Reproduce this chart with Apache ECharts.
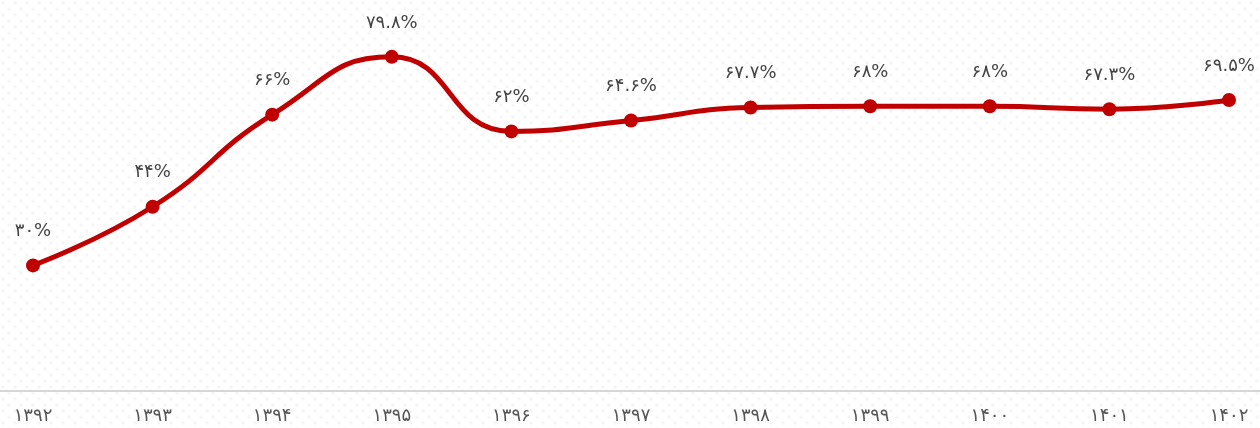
<!DOCTYPE html>
<html>
<head>
<meta charset="utf-8">
<script src="https://cdn.jsdelivr.net/npm/echarts@6/dist/echarts.min.js"></script>
<style>
  html, body {margin: 0; padding: 0; background: #fff;}
  #chart {width: 1260px; height: 428px;}
</style>
</head>
<body>
<div id="chart"></div>
<script>
const years = ['۱۳۹۲', '۱۳۹۳', '۱۳۹۴', '۱۳۹۵', '۱۳۹۶', '۱۳۹۷', '۱۳۹۸', '۱۳۹۹', '۱۴۰۰', '۱۴۰۱', '۱۴۰۲'];
const values = [30, 44, 66, 79.8, 62, 64.6, 67.7, 68, 68, 67.3, 69.5];

const faDigits = '۰۱۲۳۴۵۶۷۸۹';
const toFa = (n) => String(n).replace(/\d/g, d => faDigits[d]);

// faint dotted paper background
const tile = document.createElement('canvas');
tile.width = 12;
tile.height = 12;
const ctx = tile.getContext('2d');
ctx.fillStyle = '#ffffff';
ctx.fillRect(0, 0, 12, 12);
ctx.fillStyle = '#f5f5f5';
[[3, 3], [9, 9]].forEach(([x, y]) => {
  ctx.beginPath();
  ctx.arc(x, y, 1.8, 0, Math.PI * 2);
  ctx.fill();
});

const myChart = echarts.init(document.getElementById('chart'));
myChart.setOption({
  backgroundColor: {image: tile, repeat: 'repeat'},
  animation: false,
  grid: {left: 33, right: 31, top: 56, bottom: 37},
  xAxis: {
    type: 'category',
    data: years,
    boundaryGap: false,
    axisTick: {show: false},
    axisLine: {show: false},
    axisLabel: {
      color: '#555',
      fontSize: 18,
      fontFamily: 'DejaVu Sans',
      margin: 16,
      interval: 0
    }
  },
  yAxis: {
    type: 'value',
    min: 0,
    max: 80,
    show: false,
    splitLine: {show: false}
  },
  series: [{
    type: 'line',
    data: values,
    smooth: 0.5,
    symbol: 'circle',
    symbolSize: 14,
    z: 3,
    itemStyle: {color: '#c00000'},
    lineStyle: {color: '#c00000', width: 5},
    label: {
      show: true,
      position: 'top',
      distance: 18,
      color: '#444',
      fontSize: 18,
      fontFamily: 'DejaVu Sans',
      formatter: (p) => toFa(p.value) + '%'
    }
  }]
});

// baseline runs across the full width of the picture
const baseY = Math.round(myChart.convertToPixel({yAxisIndex: 0}, 0));
myChart.setOption({
  graphic: [{
    type: 'line',
    shape: {x1: 0, y1: baseY, x2: myChart.getWidth(), y2: baseY},
    style: {stroke: '#d6d6d6', lineWidth: 2},
    z: 1
  }]
});
</script>
</body>
</html>
